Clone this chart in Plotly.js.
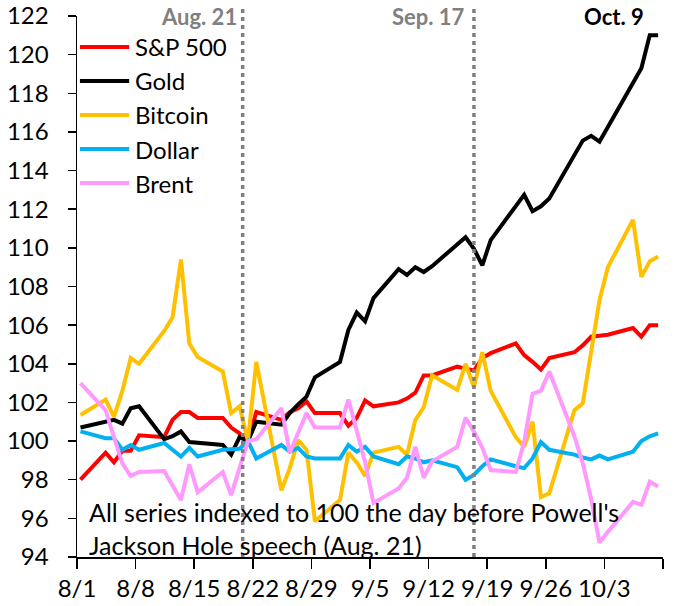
<!DOCTYPE html>
<html>
<head>
<meta charset="utf-8">
<script src="https://cdn.plot.ly/plotly-3.0.1.min.js"></script>
<style>
  body { margin: 0; background: #fff; }
  #plot { width: 680px; height: 606px; }
</style>
</head>
<body>
<div id="plot"></div>
<script>
// Trading days (plus Labor Day, forward filled), indexed to 100 on Aug. 21
let dates = [
  "2025-08-01", "2025-08-04", "2025-08-05", "2025-08-06", "2025-08-07", "2025-08-08",
  "2025-08-11", "2025-08-12", "2025-08-13", "2025-08-14", "2025-08-15",
  "2025-08-18", "2025-08-19", "2025-08-20", "2025-08-21", "2025-08-22",
  "2025-08-25", "2025-08-26", "2025-08-27", "2025-08-28", "2025-08-29",
  "2025-09-01", "2025-09-02", "2025-09-03", "2025-09-04", "2025-09-05",
  "2025-09-08", "2025-09-09", "2025-09-10", "2025-09-11", "2025-09-12",
  "2025-09-15", "2025-09-16", "2025-09-17", "2025-09-18", "2025-09-19",
  "2025-09-22", "2025-09-23", "2025-09-24", "2025-09-25", "2025-09-26",
  "2025-09-29", "2025-09-30", "2025-10-01", "2025-10-02", "2025-10-03",
  "2025-10-06", "2025-10-07", "2025-10-08", "2025-10-09"
];

let sp500 = [
  98.0, 99.4, 98.9, 99.5, 99.5, 100.3,
  100.2, 101.1, 101.5, 101.5, 101.2,
  101.2, 100.7, 100.4, 100.0, 101.5,
  101.1, 101.5, 101.7, 102.05, 101.45,
  101.45, 100.8, 101.2, 102.1, 101.8,
  102.0, 102.2, 102.5, 103.4, 103.4,
  103.85, 103.75, 103.65, 104.3, 104.55,
  105.05, 104.45, 104.1, 103.7, 104.3,
  104.6, 104.95, 105.4, 105.45, 105.5,
  105.85, 105.4, 106.0, 106.0
];

let gold = [
  100.7, 101.0, 101.1, 100.9, 101.7, 101.8,
  100.1, 100.25, 100.5, 99.95, 99.9,
  99.8, 99.3, 100.2, 100.0, 101.0,
  100.85, 101.45, 101.9, 102.3, 103.3,
  104.1, 105.75, 106.65, 106.2, 107.4,
  108.9, 108.6, 109.0, 108.75, 109.05,
  110.15, 110.55, 109.95, 109.1, 110.4,
  112.1, 112.75, 111.9, 112.15, 112.55,
  114.8, 115.55, 115.8, 115.5, 116.25,
  118.5, 119.3, 121.0, 121.0
];

let bitcoin = [
  101.35, 102.15, 101.25, 102.6, 104.3, 104.0,
  105.7, 106.4, 109.4, 105.05, 104.35,
  103.6, 101.45, 101.8, 100.0, 104.1,
  97.45, 98.6, 100.05, 99.55, 95.85,
  96.95, 99.4, 98.9, 98.2, 99.4,
  99.7, 99.3, 101.1, 101.75, 103.4,
  102.65, 104.0, 102.8, 104.6, 102.6,
  100.2, 99.7, 101.0, 97.1, 97.3,
  101.6, 101.95, 104.6, 107.3, 109.0,
  111.45, 108.5, 109.3, 109.55
];

let dollar = [
  100.5, 100.15, 100.15, 99.55, 99.8, 99.55,
  99.9, 99.55, 99.2, 99.65, 99.2,
  99.55, 99.6, 99.6, 100.0, 99.1,
  99.8, 99.45, 99.65, 99.2, 99.1,
  99.1, 99.8, 99.45, 99.7, 99.2,
  98.8, 99.2, 99.1, 98.9, 99.0,
  98.65, 98.0, 98.25, 98.7, 99.05,
  98.7, 98.6, 99.1, 99.95, 99.55,
  99.3, 99.15, 99.05, 99.25, 99.05,
  99.45, 100.0, 100.25, 100.4
];

let brent = [
  103.0, 101.6, 100.2, 98.85, 98.2, 98.4,
  98.45, 97.7, 96.95, 98.8, 97.35,
  98.4, 97.2, 98.6, 100.0, 100.1,
  101.7, 99.4, 100.4, 101.45, 100.7,
  100.7, 102.15, 100.6, 98.9, 96.8,
  97.55, 98.1, 99.7, 98.1, 98.95,
  99.7, 101.2, 100.5, 99.65, 98.5,
  98.4, 99.95, 102.45, 102.6, 103.6,
  100.25, 98.85, 97.0, 94.75, 95.3,
  96.85, 96.7, 97.9, 97.65
];

let seriesNames = ["S&P 500", "Gold", "Bitcoin", "Dollar", "Brent"];
let seriesValues = [sp500, gold, bitcoin, dollar, brent];
let seriesColors = ["#FF0000", "#000000", "#FFC000", "#00B0F0", "#FF99FF"];

let tickDates = [
  "2025-08-01", "2025-08-08", "2025-08-15", "2025-08-22", "2025-08-29",
  "2025-09-05", "2025-09-12", "2025-09-19", "2025-09-26", "2025-10-03", "2025-10-10"
];
let tickLabels = ["8/1", "8/8", "8/15", "8/22", "8/29", "9/5", "9/12", "9/19", "9/26", "10/3", ""];

let font = "Lato, 'Open Sans', sans-serif";

// Excel puts each day's point a little right of the date tick
let xs = dates.map(d => d + " 10:00");

let data = [];
for (let i = 0; i < seriesNames.length; i++) {
  data.push({
    x: xs,
    y: seriesValues[i],
    name: seriesNames[i],
    type: "scatter",
    mode: "lines",
    line: { color: seriesColors[i], width: 4 },
    hoverinfo: "x+y+name"
  });
}

// Event markers
let augLine = "2025-08-20 19:00";
let sepLine = "2025-09-17 10:00";
let dots = { color: "#808080", width: 3.5, dash: "4px,4px" };
let shapes = [
  { type: "line", xref: "x", yref: "paper", x0: augLine, x1: augLine, y0: 0, y1: 1.015, line: dots },
  { type: "line", xref: "x", yref: "paper", x0: sepLine, x1: sepLine, y0: 0, y1: 1.015, line: dots }
];

let topY = 1.028;
let annotations = [
  { text: "<b>Aug. 21</b>", xref: "x", yref: "paper", x: augLine, y: topY,
    xanchor: "right", yanchor: "top", xshift: -4, showarrow: false,
    font: { family: font, size: 22, color: "#808080" } },
  { text: "<b>Sep. 17</b>", xref: "x", yref: "paper", x: sepLine, y: topY,
    xanchor: "right", yanchor: "top", xshift: -7, showarrow: false,
    font: { family: font, size: 22, color: "#808080" } },
  { text: "<b>Oct. 9</b>", xref: "paper", yref: "paper", x: 0.916, y: topY,
    xanchor: "center", yanchor: "top", showarrow: false,
    font: { family: font, size: 22, color: "#000000" } },
  { text: "All series indexed to 100 the day before Powell's<br>Jackson Hole speech (Aug. 21)",
    xref: "paper", yref: "paper", x: 0.017, y: 0.052, xanchor: "left", yanchor: "middle",
    align: "left", showarrow: false, font: { family: font, size: 25, color: "#000000" } }
];

// Legend drawn by hand so the line samples match the long Excel keys
for (let i = 0; i < seriesNames.length; i++) {
  let yPix = 47 + i * 34;
  let yPaper = (557 - yPix) / 541;
  shapes.push({ type: "line", xref: "paper", yref: "paper", x0: 0.005, x1: 0.089,
    y0: yPaper, y1: yPaper, line: { color: seriesColors[i], width: 4 } });
  annotations.push({ text: seriesNames[i], xref: "paper", yref: "paper", x: 0.096, y: yPaper,
    xanchor: "left", yanchor: "middle", showarrow: false,
    font: { family: font, size: 24, color: "#000000" } });
}

let layout = {
  width: 680,
  height: 606,
  margin: { l: 77, r: 17, t: 16, b: 49, pad: 0 },
  paper_bgcolor: "#ffffff",
  plot_bgcolor: "#ffffff",
  showlegend: false,
  font: { family: font, size: 24, color: "#000000" },
  xaxis: {
    type: "date",
    range: ["2025-08-01", "2025-10-10"],
    tickmode: "array",
    tickvals: tickDates,
    ticktext: tickLabels,
    ticks: "outside",
    ticklen: 10,
    tickwidth: 1.5,
    tickcolor: "#000000",
    showline: true,
    linecolor: "#000000",
    linewidth: 1.5,
    showgrid: false,
    zeroline: false,
    tickfont: { family: font, size: 24, color: "#000000" }
  },
  yaxis: {
    range: [94, 122],
    tick0: 94,
    dtick: 2,
    ticks: "outside",
    ticklen: 8,
    tickwidth: 1.5,
    tickcolor: "#000000",
    showline: true,
    linecolor: "#000000",
    linewidth: 1.5,
    showgrid: false,
    zeroline: false,
    ticklabelstandoff: 14,
    tickfont: { family: font, size: 24, color: "#000000" }
  },
  shapes: shapes,
  annotations: annotations
};

Plotly.newPlot("plot", data, layout, { displayModeBar: false, staticPlot: true });
</script>
</body>
</html>
